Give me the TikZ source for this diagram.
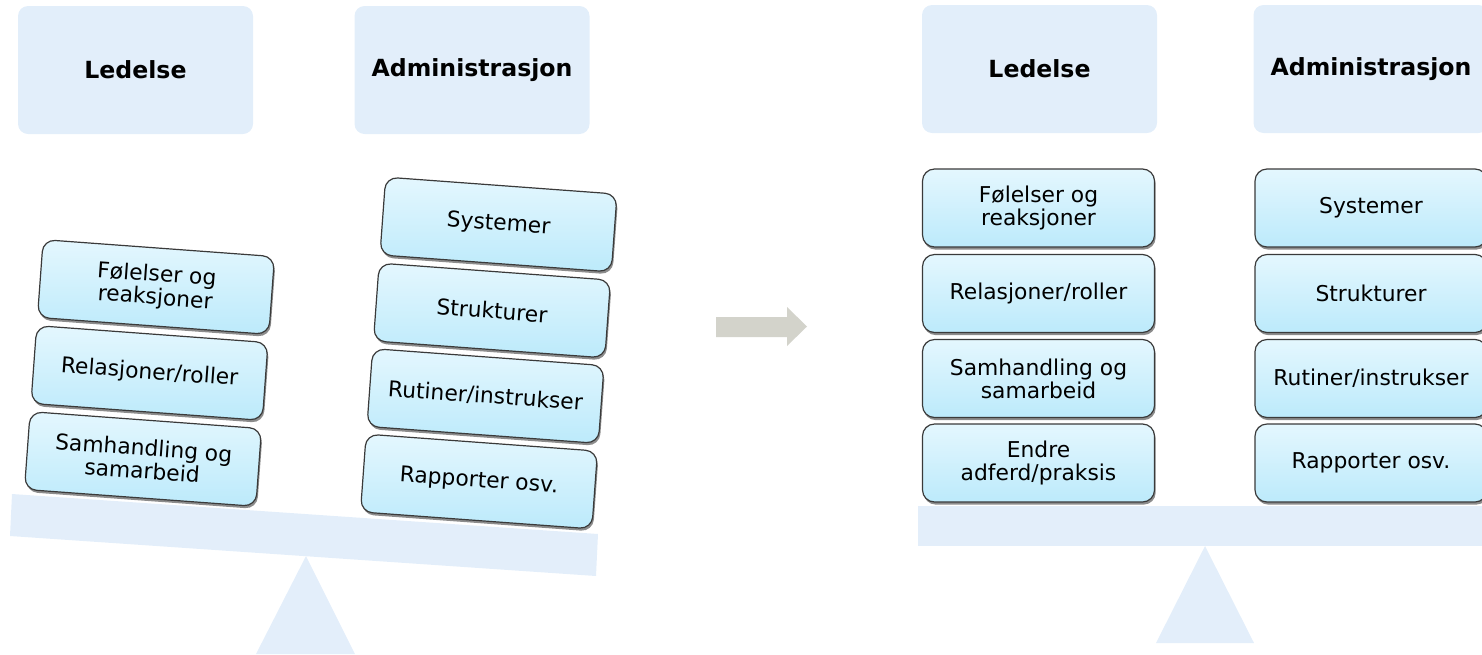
\documentclass[tikz,border=0pt]{standalone}
\usepackage{fontspec}
\setmainfont{DejaVu Sans}
\usetikzlibrary{shadows}
\definecolor{hdr}{HTML}{E2EEFA}
\definecolor{beamc}{HTML}{E3EEFA}
\definecolor{itop}{HTML}{E4F7FE}
\definecolor{ibot}{HTML}{BCEAFB}
\definecolor{bord}{HTML}{3A3A3A}
\definecolor{arrowc}{HTML}{D3D3CB}
\begin{document}
\begin{tikzpicture}[x=0.5pt,y=-0.5pt,
  hdrbox/.style={fill=hdr, rounded corners=5pt, minimum width=117.5pt, minimum height=64pt, inner sep=0pt, font=\fontsize{11.8}{14}\selectfont\bfseries},
  item/.style={draw=bord, line width=0.6pt, top color=itop, bottom color=ibot, rounded corners=6pt, minimum width=116pt, minimum height=39pt, inner sep=0pt, align=center, font=\fontsize{10.9}{11.5}\selectfont, drop shadow={shadow xshift=0.6pt, shadow yshift=-1.3pt, opacity=0.45, fill=black}},
  beam/.style={fill=beamc, draw=none}]
\clip (0,0) rectangle (1482,654);

% ---------- left panel ----------
\node[hdrbox] (hL1) at (135.5,70) {Ledelse};
\node[hdrbox] (hL2) at (472,70) {Administrasjon};

\fill[beam] (12,494) -- (598,534) -- (596,576) -- (10,536) -- cycle;
\fill[beam] (306,556) -- (355,654) -- (256,654) -- cycle;

\node[item, rotate=-4.2] (l1) at (156,287) {Følelser og\\reaksjoner};
\node[item, rotate=-4.2] (l2) at (149.5,373) {Relasjoner/roller};
\node[item, rotate=-4.2] (l3) at (143,459) {Samhandling og\\samarbeid};

\node[item, rotate=-4.2] (r1) at (498.5,224.5) {Systemer};
\node[item, rotate=-4.2] (r2) at (492,310.5) {Strukturer};
\node[item, rotate=-4.2] (r3) at (485.5,396) {Rutiner/instrukser};
\node[item, rotate=-4.2] (r4) at (479,481.5) {Rapporter osv.};

% ---------- arrow ----------
\fill[arrowc] (716,317) -- (787,317) -- (787,307) -- (807,326.5) -- (787,346) -- (787,337) -- (716,337) -- cycle;

% ---------- right panel ----------
\node[hdrbox] (hR1) at (1039.5,69) {Ledelse};
\node[hdrbox] (hR2) at (1371,69) {Administrasjon};

\fill[beam] (918,506) rectangle (1482,546);
\fill[beam] (1205,546) -- (1254,643) -- (1156,643) -- cycle;

\node[item] (a1) at (1038.5,208) {Følelser og\\reaksjoner};
\node[item] (a2) at (1038.5,293.5) {Relasjoner/roller};
\node[item] (a3) at (1038.5,378.5) {Samhandling og\\samarbeid};
\node[item] (a4) at (1038.5,463) {Endre\\adferd/praksis};

\node[item] (b1) at (1371,208) {Systemer};
\node[item] (b2) at (1371,293.5) {Strukturer};
\node[item] (b3) at (1371,378.5) {Rutiner/instrukser};
\node[item] (b4) at (1371,463) {Rapporter osv.};
\end{tikzpicture}
\end{document}
